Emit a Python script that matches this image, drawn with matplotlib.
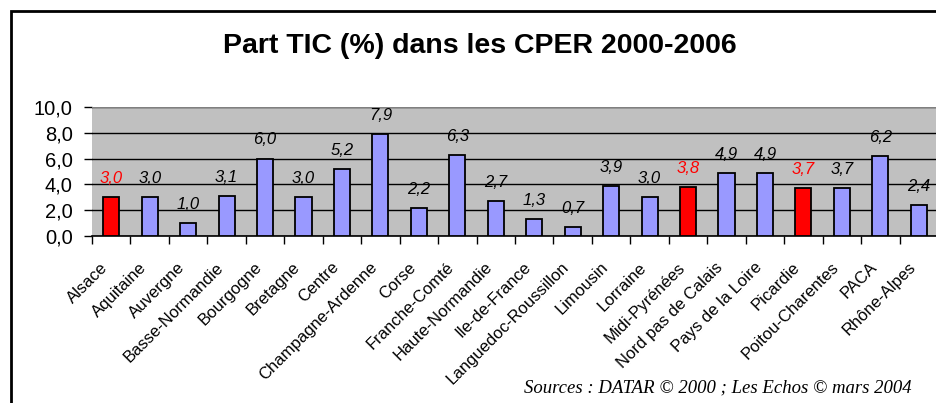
import matplotlib
matplotlib.use("Agg")
import matplotlib.pyplot as plt
from matplotlib.patches import Rectangle

regions = ["Alsace", "Aquitaine", "Auvergne", "Basse-Normandie", "Bourgogne", "Bretagne",
           "Centre", "Champagne-Ardenne", "Corse", "Franche-Comté", "Haute-Normandie",
           "Ile-de-France", "Languedoc-Roussillon", "Limousin", "Lorraine", "Midi-Pyrénées",
           "Nord pas de Calais", "Pays de la Loire", "Picardie", "Poitou-Charentes", "PACA",
           "Rhône-Alpes"]
values = [3.0, 3.0, 1.0, 3.1, 6.0, 3.0, 5.2, 7.9, 2.2, 6.3, 2.7, 1.3, 0.7, 3.9, 3.0,
          3.8, 4.9, 4.9, 3.7, 3.7, 6.2, 2.4]
highlighted = ["Alsace", "Midi-Pyrénées", "Picardie"]
yticks = [0, 2, 4, 6, 8, 10]

title = "Part TIC (%) dans les CPER 2000-2006"
source = "Sources : DATAR © 2000 ; Les Echos © mars 2004"

plt.rcParams['font.family'] = ['Liberation Sans', 'DejaVu Sans']

fig = plt.figure(figsize=(9.36, 4.03), dpi=100)
ax = fig.add_axes([92/936, 1 - 236/403, 846/936, 129/403])
ax.set_facecolor('#C0C0C0')

x = list(range(len(regions)))
colors = ['#FF0000' if r in highlighted else '#9999FF' for r in regions]
ax.bar(x, values, width=0.42, color=colors, edgecolor='black', linewidth=1.3, zorder=3)

for xi, v, r in zip(x, values, regions):
    ax.annotate(f"{v:.1f}".replace('.', ','), (xi, v), xytext=(0, 8), textcoords='offset points',
                ha='center', va='bottom', fontsize=12, style='italic',
                color='#FF0000' if r in highlighted else 'black', zorder=4)

ax.set_xlim(-0.5, len(regions) - 0.5)
ax.set_ylim(0, 10)
ax.set_yticks(yticks)
ax.set_yticklabels([f"{t:.1f}".replace('.', ',') for t in yticks], fontsize=14.5)
ax.yaxis.grid(True, color='black', linewidth=1.0, zorder=1)
ax.set_axisbelow(True)

ax.set_xticks([i - 0.5 for i in range(len(regions) + 1)], minor=False)
ax.set_xticklabels([])
ax.tick_params(axis='x', length=6, width=1, direction='out', color='black')
ax.tick_params(axis='y', length=6, width=1, direction='out', color='black', pad=8)

for xi, r in zip(x, regions):
    ax.annotate(r, (xi, 0), xytext=(-8, -17), textcoords='offset points',
                ha='right', va='top', rotation=45, rotation_mode='anchor', fontsize=12,
                annotation_clip=False)

for s in ['top', 'right']:
    ax.spines[s].set_visible(False)
ax.spines['left'].set_visible(False)
ax.spines['bottom'].set_color('black')
ax.spines['bottom'].set_linewidth(1.2)
ax.axhline(10, color='#808080', linewidth=1.5, zorder=2)

fig.text(480/936, 1 - 46/403, title, ha='center', va='center', fontsize=20.5, fontweight='bold')
fig.text(912/936, 1 - 388/403, source, ha='right', va='center', fontsize=13.5,
         style='italic', family=['Liberation Serif', 'DejaVu Serif'])

fig.add_artist(Rectangle((10.5/936, -0.1), 1.2, 1.1 - 10.5/403, transform=fig.transFigure,
                         fill=False, edgecolor='black', linewidth=2, clip_on=False))

fig.savefig("out.png", dpi=100)
